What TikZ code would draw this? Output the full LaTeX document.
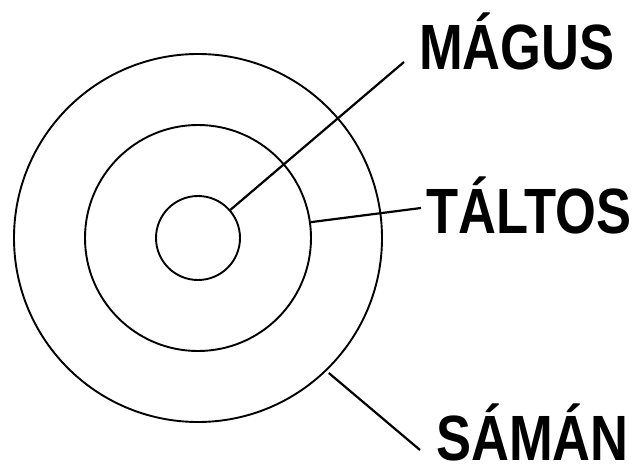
\documentclass[tikz,border=0pt]{standalone}
\usepackage{fontspec}
\usepackage{tikz}
\usetikzlibrary{positioning,calc}
\newfontfamily\lblfont{Liberation Sans}[FakeStretch=0.82]
\tikzset{
  ring/.style={circle, draw=black, line width=1.9pt, inner sep=0pt},
  lead/.style={draw=black, line width=2.2pt},
  lbl/.style={inner sep=0pt, font=\lblfont\bfseries\fontsize{64}{64}\selectfont}
}
\begin{document}
\begin{tikzpicture}[x=1pt,y=1pt]
  \useasboundingbox (0,0) rectangle (640,472);
  \node[ring, minimum size=368pt] (outer) at (198,234) {};
  \node[ring, minimum size=226pt] (middle) at (198,234) {};
  \node[ring, minimum size=84pt] (inner) at (198,234) {};
  \node[lbl, anchor=base west] (magus) at (419,402) {MÁGUS};
  \node[lbl, anchor=base west] (taltos) at (426,239) {TÁLTOS};
  \node[lbl, anchor=base west] (saman) at (436,12) {SÁMÁN};
  \coordinate (mEnd) at (404,410);
  \coordinate (tEnd) at (421,264);
  \coordinate (sEnd) at (420,22);
  \draw[lead] (inner.41) -- (mEnd);
  \draw[lead] (middle.8) -- (tEnd);
  \draw[lead, shorten <=3pt] (outer.-46) -- (sEnd);
\end{tikzpicture}
\end{document}
